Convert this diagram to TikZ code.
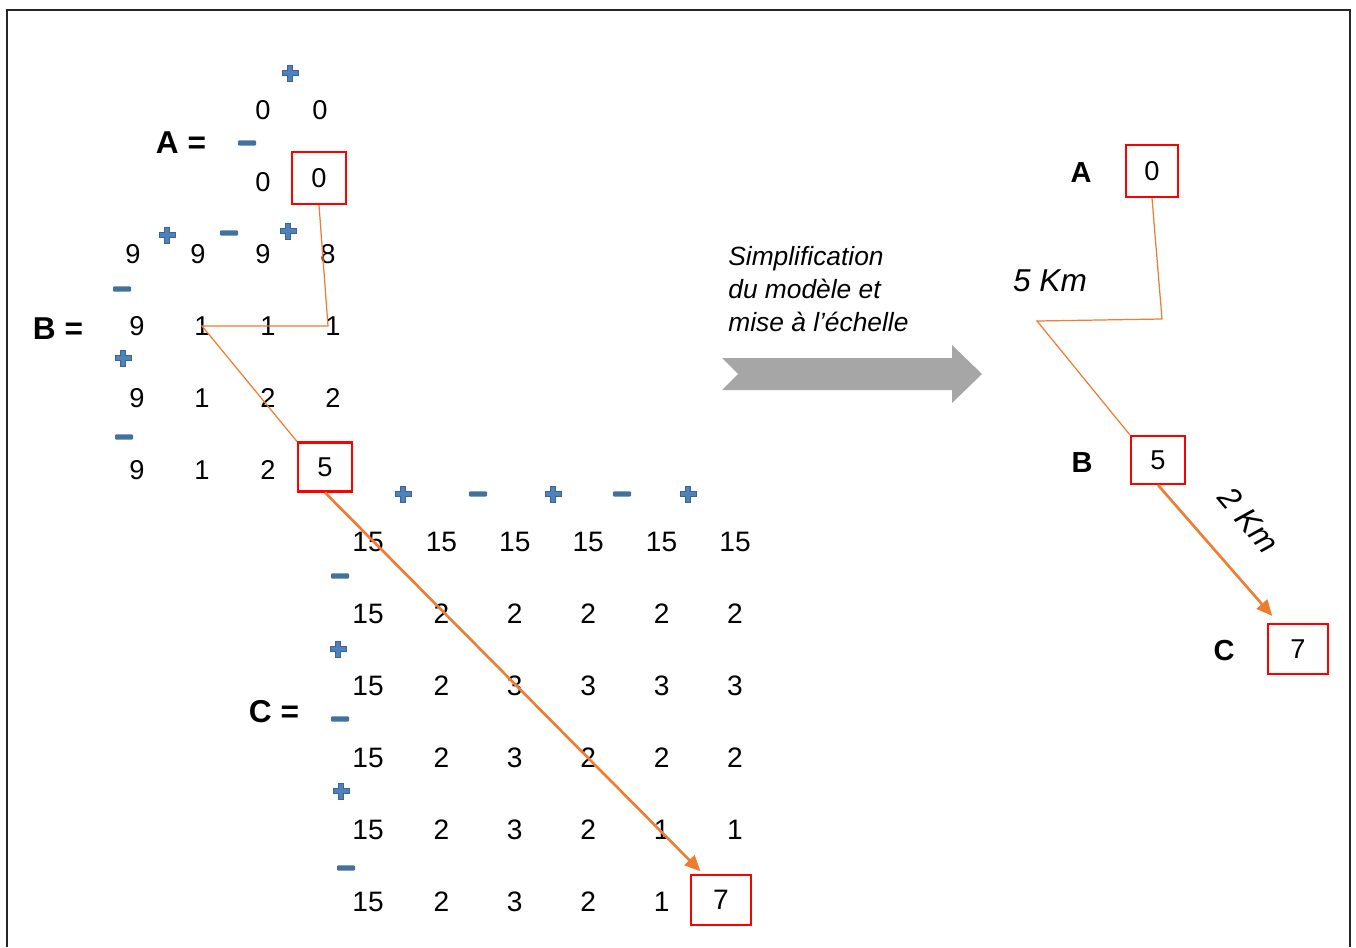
\documentclass[tikz,border=0pt]{standalone}
\usepackage{fontspec}
\setmainfont{Liberation Sans}
\usetikzlibrary{arrows.meta}
\definecolor{signblue}{HTML}{4F81BD}
\definecolor{signedge}{HTML}{3A6592}
\definecolor{minusblue}{HTML}{41719C}
\definecolor{pathorange}{HTML}{ED7D31}
\definecolor{arrowgray}{HTML}{A6A6A6}
\tikzset{
 num/.style={font=\fontsize{15.5}{17}\selectfont, inner sep=0pt},
 cnum/.style={font=\fontsize{16}{18}\selectfont, inner sep=0pt},
 lbl/.style={font=\fontsize{18}{20}\selectfont\bfseries, inner sep=0pt},
 rlbl/.style={font=\fontsize{16.5}{18}\selectfont\bfseries, inner sep=0pt},
 dist/.style={font=\fontsize{18}{20}\selectfont\itshape, inner sep=0pt},
 hit/.style={draw=red, line width=1.2pt, inner sep=0pt, font=\fontsize{15.5}{17}\selectfont},
 route/.style={draw=pathorange, line width=0.7pt},
 jump/.style={draw=pathorange, line width=1.5pt, -{Triangle[length=9pt,width=8pt]}},
 plusmark/.pic={\filldraw[fill=signblue, draw=signedge, line width=0.4pt]
   (-8,-2.8) -- (-2.8,-2.8) -- (-2.8,-8) -- (2.8,-8) -- (2.8,-2.8) -- (8,-2.8) -- (8,2.8)
   -- (2.8,2.8) -- (2.8,8) -- (-2.8,8) -- (-2.8,2.8) -- (-8,2.8) -- cycle;},
 minusmark/.pic={\fill[minusblue, rounded corners=0.6pt] (-9,-2.6) rectangle (9,2.6);}
}
\begin{document}
\begin{tikzpicture}[x=0.02cm, y=-0.02cm]
 \useasboundingbox (0,0) rectangle (1356,947);
 \draw[black!85, line width=0.8pt] (7,947) -- (7,10) -- (1350,10) -- (1350,947);

 % matrix A
 \node[lbl] (alab) at (181,143) {A =};
 \pic at (290,73) {plusmark}; \pic at (247,143) {minusmark};
 \node[num] (a11) at (263,110) {0}; \node[num] (a12) at (320,110) {0};
 \node[num] (a21) at (263,182) {0};
 \node[hit, minimum width=1.08cm, minimum height=1.04cm] (abox) at (319,178) {0};

 % matrix B
 \node[lbl] (blab) at (58,329) {B =};
 \pic at (167,235) {plusmark}; \pic at (229,233) {minusmark}; \pic at (288,231) {plusmark};
 \pic at (122,289) {minusmark}; \pic at (123,358) {plusmark}; \pic at (124,437) {minusmark};
 \foreach \x/\v [count=\i] in {133/9,198/9,263/9,328/8} \node[num] (b1\i) at (\x,254) {\v};
 \foreach \r/\y/\va/\vb/\vc/\vd in {2/326/9/1/1/1,3/398/9/1/2/2}{
  \node[num] (b\r1) at (137,\y) {\va}; \node[num] (b\r2) at (202,\y) {\vb};
  \node[num] (b\r3) at (268,\y) {\vc}; \node[num] (b\r4) at (333,\y) {\vd};}
 \node[num] (b41) at (137,470) {9}; \node[num] (b42) at (202,470) {1}; \node[num] (b43) at (268,470) {2};
 \node[hit, minimum width=1.08cm, minimum height=0.98cm] (bbox) at (325,467) {5};

 % matrix C
 \node[lbl] (clab) at (274,712) {C =};
 \foreach \x [count=\i] in {403,478,553,622,688}{
  \ifodd\i \pic at (\x,494) {plusmark}; \else \pic at (\x,494) {minusmark}; \fi}
 \pic at (340,576) {minusmark}; \pic at (338,649) {plusmark}; \pic at (340,719) {minusmark};
 \pic at (341,791) {plusmark}; \pic at (346,868) {minusmark};
 \foreach \r/\vals in {1/{15,15,15,15,15,15},2/{15,2,2,2,2,2},3/{15,2,3,3,3,3},
                       4/{15,2,3,2,2,2},5/{15,2,3,2,1,1},6/{15,2,3,2,1}}
  \foreach \v [count=\c] in \vals
   \node[cnum] (c\r\c) at ({368+73.4*(\c-1)},{542+72*(\r-1)}) {\v};
 \node[hit, minimum width=1.2cm, minimum height=1cm, font=\fontsize{16}{18}\selectfont] (cbox) at (721,900) {7};

 % path on the matrices
 \coordinate (abend) at (328,326);
 \draw[route] (abox.south) -- (abend) -- (b22.center) -- (bbox.north west);
 \draw[jump] (bbox.south) -- ([xshift=6pt, yshift=1.5pt]cbox.north west);

 % transition
 \fill[arrowgray] (722,358) -- (952,358) -- (952,345) -- (982,374) -- (952,403) -- (952,390)
   -- (722,390) -- (738,374) -- cycle;
 \node[anchor=west, align=left, inner sep=0pt, font=\fontsize{15}{18.7}\selectfont\itshape]
   (simpl) at (728,289) {Simplification\\du modèle et\\mise à l’échelle};

 % scaled model
 \node[rlbl] (ralab) at (1081,173) {A};
 \node[hit, minimum width=1.04cm, minimum height=1.04cm] (ra) at (1152,171) {0};
 \node[rlbl] (rblab) at (1082,463) {B};
 \node[hit, minimum width=1.08cm, minimum height=0.96cm] (rb) at (1158,460) {5};
 \node[rlbl] (rclab) at (1224,651) {C};
 \node[hit, minimum width=1.2cm, minimum height=1cm] (rc) at (1298,649) {7};
 \coordinate (rbend1) at (1162,319); \coordinate (rbend2) at (1037,321);
 \draw[route] (ra.south) -- (rbend1) -- (rbend2) -- (rb.north west);
 \draw[jump] (rb.south) -- ([xshift=3pt, yshift=4pt]rc.north west);
 \node[dist] (d5) at (1050,281) {5 Km};
 \node[dist, rotate=-50] (d2) at (1249,520) {2 Km};
\end{tikzpicture}
\end{document}
